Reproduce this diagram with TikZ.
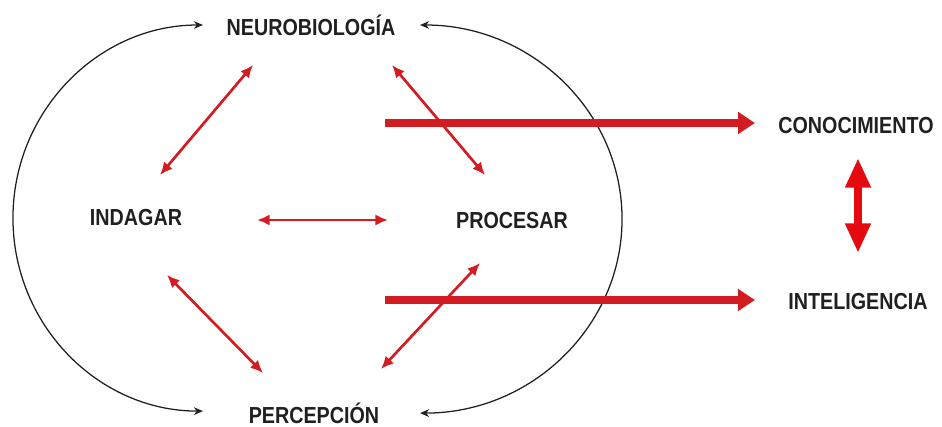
\documentclass[tikz,border=0pt]{standalone}
\usepackage{fontspec}
\newfontfamily\rotulofont{Liberation Sans}[FakeStretch=0.85]
\usetikzlibrary{arrows.meta}
\definecolor{rojo}{RGB}{210,28,34}
\definecolor{rojovivo}{RGB}{228,10,16}
\definecolor{tinta}{RGB}{32,32,32}

\begin{document}
\begin{tikzpicture}[x=0.025cm,y=-0.025cm,
  rotulo/.style={text=tinta,font=\rotulofont\bfseries\fontsize{16.5}{18}\selectfont},
  curva/.style={tinta,line width=0.9pt,{Stealth[length=6.5pt,width=5.5pt]}-{Stealth[length=6.5pt,width=5.5pt]}},
  flecha/.style={rojo,line width=1.9pt,{Latex[length=9pt,width=8pt]}-{Latex[length=9pt,width=8pt]}},
  gruesa/.style={rojo,line width=5pt,-{Triangle[length=12pt,width=15pt]}},
  doble/.style={rojovivo,line width=5.5pt,{Triangle[length=21pt,width=17pt]}-{Triangle[length=21pt,width=17pt]}}]
  \useasboundingbox (0,0) rectangle (942,427);
  \node[rotulo] (neuro) at (311,25) {NEUROBIOLOGÍA};
  \node[rotulo] (indag) at (136,218) {INDAGAR};
  \node[rotulo] (proc) at (512,221) {PROCESAR};
  \node[rotulo] (percep) at (314,413) {PERCEPCIÓN};
  \node[rotulo] (cono) at (856,126) {CONOCIMIENTO};
  \node[rotulo] (intel) at (858,302) {INTELIGENCIA};
  \draw[curva] ([shift={(-108,0)}]neuro.center) arc[start angle=90,end angle=270,x radius=4.75cm,y radius=4.825cm];
  \draw[curva] ([shift={(109,0)}]neuro.center) arc[start angle=90,end angle=-90,x radius=5.05cm,y radius=4.85cm];
  \draw[flecha] ([shift={(-58,40)}]neuro.center) -- ([shift={(24,-43)}]indag.center);
  \draw[flecha] ([shift={(81,40)}]neuro.center) -- ([shift={(-27,-46)}]proc.center);
  \draw[flecha] ([shift={(121,2)}]indag.center) -- ([shift={(-124,-1)}]proc.center);
  \draw[flecha] ([shift={(31,57)}]indag.center) -- ([shift={(-51,-40)}]percep.center);
  \draw[flecha] ([shift={(-32,42)}]proc.center) -- ([shift={(67,-44)}]percep.center);
  \coordinate (salida1) at (385,123);
  \coordinate (salida2) at (385,300);
  \draw[gruesa] (salida1) -- ([shift={(-101,0)}]cono.center |- salida1);
  \draw[gruesa] (salida2) -- ([shift={(-103,0)}]intel.center |- salida2);
  \draw[doble] ([shift={(2,32)}]cono.center) -- ([shift={(0,-49)}]intel.center);
\end{tikzpicture}
\end{document}
